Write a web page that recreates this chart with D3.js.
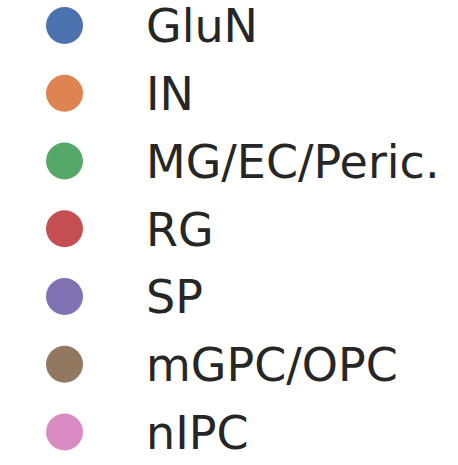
<!DOCTYPE html>
<html><head><meta charset="utf-8">
<script src="https://cdn.jsdelivr.net/npm/d3@7"></script>
<style>body{margin:0;background:#fff}</style>
</head><body>
<script>
const categories = ["GluN","IN","MG/EC/Peric.","RG","SP","mGPC/OPC","nIPC"];
const colors = ["#4c72b0","#dd8452","#55a868","#c44e52","#8172b3","#937860","#da8bc3"];

const W = 458, H = 465;
const svg = d3.select("body").append("svg").attr("width", W).attr("height", H);
const y = d3.scalePoint().domain(categories).range([25.5, 432]);
const color = d3.scaleOrdinal().domain(categories).range(colors);
const fs = 46;
const g = svg.selectAll("g.item").data(categories).join("g").attr("class","item")
  .attr("transform", d => `translate(0,${y(d)})`);
g.append("circle").attr("cx", 64.5).attr("cy", 0).attr("r", 18.5).attr("fill", d => color(d));
g.append("text").attr("x", 146).attr("y", fs*0.729/2)
  .attr("font-family","DejaVu Sans").attr("font-size", fs).attr("fill","#262626")
  .text(d => d);
</script>
</body></html>
